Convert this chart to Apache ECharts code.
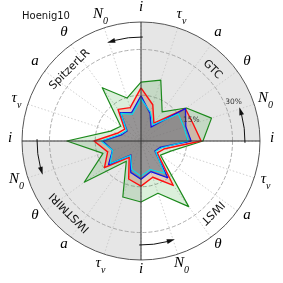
<!DOCTYPE html>
<html><head><meta charset="utf-8">
<script src="https://cdn.jsdelivr.net/npm/echarts@6/dist/echarts.min.js"></script>
<style>html,body{margin:0;padding:0;background:#fff}#c{width:283px;height:283px}</style>
</head><body><div id="c"></div>
<script>
// ---- data (clockwise from top, 18 deg steps) ----
const paramCycle = ['i','tau','a','theta','N0'];
const quadrantNames = ['GTC','IWST','IWSTMIRI','SpitzerLR'];
const tickValues = [15, 30];
const tickLabels = ['15%', '30%'];
const titleText = 'Hoenig10';
const greenVals = [19.3,21.0,11.8,18.4,24.3,20.3,10.5,7.9,26.6,18.0,20.0,19.3,8.2,23.0,13.1,24.3,10.5,8.2,21.6,14.8];
const redVals   = [17.4,12.5,7.2,18.0,18.0,19.7,8.2,6.6,18.0,12.5,14.8,13.1,6.6,14.8,11.5,15.4,8.2,6.6,12.8,11.5];
const blueVals  = [14.8,9.5,5.6,18.0,15.4,16.4,6.6,5.6,14.8,10.5,12.5,10.8,5.6,13.1,9.8,12.5,6.6,5.6,11.5,9.8];
const cyanVals  = [13.8,10.0,6.6,15.1,14.8,15.4,7.2,5.9,13.1,9.8,11.5,9.8,5.9,12.5,9.8,13.1,7.2,5.9,11.2,9.2];

// ---- layout ----
const CX = 141, CY = 141, R = 119, RMAX = 39;
const N = greenVals.length;
const STEP = 360 / N;
const scaleR = v => v / RMAX * R;
function pt(deg, r){ const t = deg*Math.PI/180; return [CX + r*Math.sin(t), CY - r*Math.cos(t)]; }

// radar goes counter-clockwise: reorder
const order = [0]; for (let k = N-1; k >= 1; k--) order.push(k);
const reorder = arr => order.map(k => arr[k]);
const indicator = order.map(k => ({ name: paramCycle[k % 5] + '_' + k, min: 0, max: RMAX }));

const labelRich = {
  m: { fontFamily: 'Liberation Serif', fontStyle: 'italic', fontSize: 15, color: '#111', padding: [0,0,5,0] },
  s: { fontFamily: 'Liberation Serif', fontStyle: 'italic', fontSize: 10, color: '#111', verticalAlign: 'bottom' }
};
const labelText = { i: '{m|i}', tau: '{m|τ}{s|ν}', a: '{m|a}', theta: '{m|θ}', N0: '{m|N}{s|0}' };

const graphics = [];
// shaded quadrants (GTC and IWSTMIRI)
[[0,90],[180,270]].forEach(([a0,a1]) => {
  graphics.push({ type: 'sector', silent: true, z: -10,
    shape: { cx: CX, cy: CY, r0: 0, r: R, startAngle: (a0-90)*Math.PI/180, endAngle: (a1-90)*Math.PI/180, clockwise: true },
    style: { fill: '#e6e6e6' } });
});
// main cross
[[0,180],[90,270]].forEach(([a,b]) => {
  const p = pt(a, R), q = pt(b, R);
  graphics.push({ type: 'line', silent: true, z: 50, shape: { x1: p[0], y1: p[1], x2: q[0], y2: q[1] }, style: { stroke: '#333', lineWidth: 1 } });
});
// parameter labels
for (let k = 0; k < N; k++) {
  const p = pt(k*STEP, 131);
  graphics.push({ type: 'text', silent: true, z: 60, x: p[0], y: p[1],
    style: { text: labelText[paramCycle[k % 5]], rich: labelRich, align: 'center', verticalAlign: 'middle' } });
}
// quadrant names
quadrantNames.forEach((name, q) => {
  const deg = 45 + 90*q;
  const p = pt(deg, 101);
  graphics.push({ type: 'text', silent: true, z: 60, x: p[0], y: p[1], rotation: -deg*Math.PI/180,
    style: { text: name, fontFamily: 'DejaVu Sans', fontSize: 11, fill: '#111', align: 'center', verticalAlign: 'middle' } });
});
// arrows (counter-clockwise, at the end of each quadrant)
[90,180,270,360].forEach(b => {
  const ra = 104;
  graphics.push({ type: 'arc', silent: true, z: 60,
    shape: { cx: CX, cy: CY, r: ra, startAngle: (b+1-90)*Math.PI/180, endAngle: (b-15-90)*Math.PI/180, clockwise: false },
    style: { stroke: '#111', lineWidth: 1, fill: null } });
  const tip = pt(b-19, ra), b1 = pt(b-14.5, ra+2.4), b2 = pt(b-14.5, ra-2.4);
  graphics.push({ type: 'polygon', silent: true, z: 60, shape: { points: [tip, b1, b2] }, style: { fill: '#111' } });
});
// radial tick labels
tickValues.forEach((v, i) => {
  const p = pt(67, scaleR(v) + 9);
  graphics.push({ type: 'text', silent: true, z: 60, x: p[0], y: p[1],
    style: { text: tickLabels[i], fontFamily: 'DejaVu Sans', fontSize: 7.5, fill: '#333', align: 'center', verticalAlign: 'middle' } });
});
// title
graphics.push({ type: 'text', silent: true, z: 60, x: 22, y: 16,
  style: { text: titleText, fontFamily: 'DejaVu Sans', fontSize: 10, fill: '#111', align: 'left', verticalAlign: 'middle' } });

const mk = (name, vals, line, lw, fill, z) => ({
  type: 'radar', name, z, symbol: 'none',
  lineStyle: { color: line, width: lw },
  areaStyle: fill ? { color: fill } : undefined,
  data: [{ value: reorder(vals) }]
});

const chart = echarts.init(document.getElementById('c'), null, { renderer: 'canvas' });
chart.setOption({
  animation: false,
  polar: { center: [CX, CY], radius: R },
  angleAxis: { type: 'value', min: 0, max: 360, interval: STEP, startAngle: 90, clockwise: true,
    axisLine: { lineStyle: { color: '#555', width: 1 } }, axisTick: { show: false }, axisLabel: { show: false },
    splitLine: { lineStyle: { color: '#c4c4c4', type: [1.5, 2], width: 0.8 } } },
  radiusAxis: { type: 'value', min: 0, max: RMAX, interval: tickValues[0],
    axisLine: { show: false }, axisTick: { show: false }, axisLabel: { show: false },
    splitLine: { lineStyle: { color: ['#999','#999','#999','rgba(0,0,0,0)'], type: [4, 2], width: 0.8 } } },
  radar: { center: [CX, CY], radius: R, startAngle: 90, shape: 'circle', indicator,
    axisName: { show: false }, axisLine: { show: false }, splitLine: { show: false }, splitArea: { show: false }, axisTick: {show:false}, axisLabel:{show:false} },
  series: [
    mk('green', greenVals, '#1f8a1f', 1.2, 'rgba(0,140,0,0.2)', 3),
    mk('red', redVals, '#ff1010', 1.4, 'rgba(255,0,0,0.2)', 4),
    mk('blue', blueVals, '#0000ff', 1.4, 'rgba(95,105,120,0.8)', 5),
    mk('cyan', cyanVals, '#00e0f0', 1.1, null, 6)
  ],
  graphic: { elements: graphics }
});
</script></body></html>
